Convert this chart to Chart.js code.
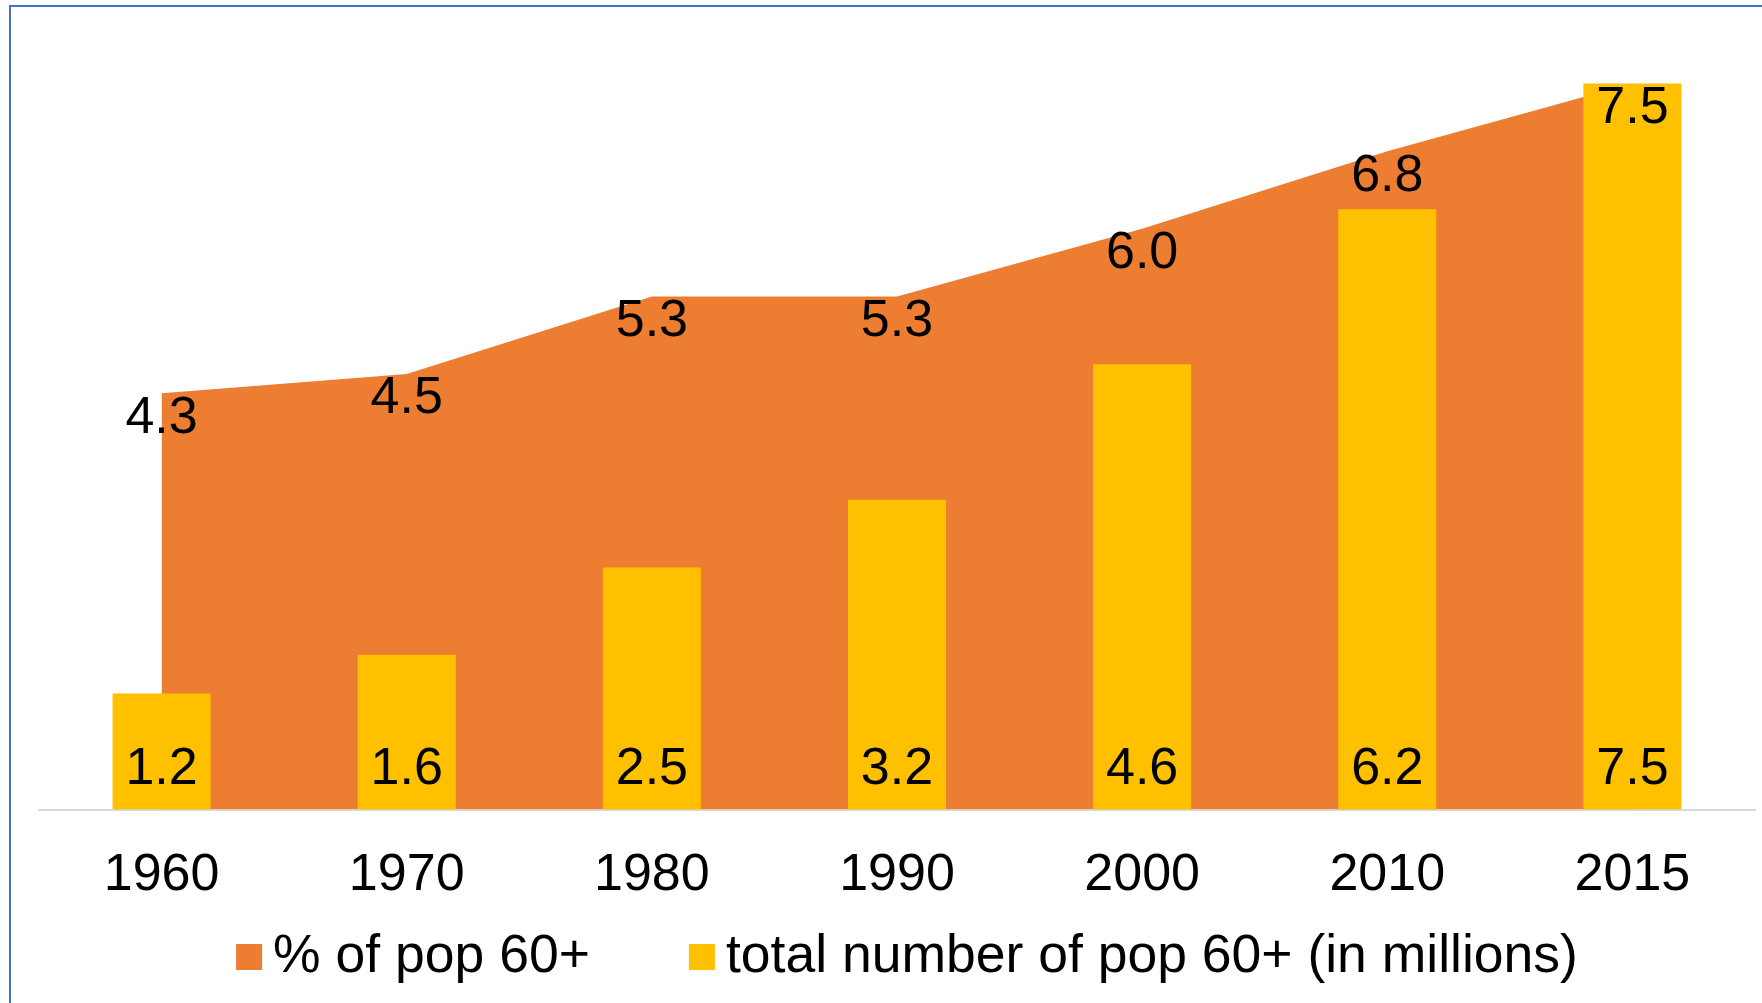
<!DOCTYPE html>
<html>
<head>
<meta charset="utf-8">
<title>Population aged 60+</title>
<script src="https://cdn.jsdelivr.net/npm/chart.js@4.4.1/dist/chart.umd.min.js"></script>
<style>
  html, body { margin: 0; padding: 0; background: #fff; }
  canvas { display: block; }
</style>
</head>
<body>
<canvas id="myChart" width="1762" height="1003"></canvas>
<script>
var years = ["1960", "1970", "1980", "1990", "2000", "2010", "2015"];
var sharePop60 = [4.3, 4.5, 5.3, 5.3, 6.0, 6.8, 7.5];
var totalPop60 = [1.2, 1.6, 2.5, 3.2, 4.6, 6.2, 7.5];
var seriesNames = ["% of pop 60+", "total number of pop 60+ (in millions)"];

var orange = "#ED7D31";
var yellow = "#FFC000";
var fontFamily = "'Liberation Sans', Arial, sans-serif";
var labelFont = { family: fontFamily, size: 52 };

// blue frame round the chart (right and bottom edges fall outside the canvas)
var frame = {
  id: "frame",
  beforeDraw(chart) {
    const ctx = chart.ctx;
    ctx.save();
    ctx.strokeStyle = "#4472C4";
    ctx.lineWidth = 2;
    ctx.strokeRect(10, 6, chart.width, chart.height);
    ctx.restore();
  }
};

// value labels: area values just under the line, bar values near the base
var valueLabels = {
  id: "valueLabels",
  afterDatasetsDraw(chart) {
    const ctx = chart.ctx;
    ctx.save();
    ctx.font = "52px " + fontFamily;
    ctx.fillStyle = "#000";
    ctx.textAlign = "center";
    ctx.textBaseline = "middle";
    chart.getDatasetMeta(0).data.forEach((pt, i) => {
      ctx.fillText(sharePop60[i].toFixed(1), pt.x, pt.y + 25);
    });
    chart.getDatasetMeta(1).data.forEach((bar, i) => {
      ctx.fillText(totalPop60[i].toFixed(1), bar.x, bar.base - 40);
    });
    ctx.restore();
  }
};

// legend row under the axis: square swatch, short gap, then the series name
var legendRow = {
  id: "legendRow",
  afterDraw(chart) {
    const ctx = chart.ctx;
    const area = chart.chartArea;
    const box = 26, gap = 11, spacing = 99;
    const y = chart.height - 46;
    ctx.save();
    ctx.font = "53.5px " + fontFamily;
    ctx.textBaseline = "middle";
    const items = chart.data.datasets.map(ds => ({
      text: ds.label,
      color: ds.backgroundColor,
      w: ctx.measureText(ds.label).width
    }));
    const total = items.reduce((s, it) => s + box + gap + it.w, 0) + spacing * (items.length - 1);
    let x = (area.left + area.right) / 2 + 10 - total / 2;
    items.forEach(it => {
      ctx.fillStyle = it.color;
      ctx.fillRect(x, y - box / 2, box, box);
      ctx.fillStyle = "#000";
      ctx.fillText(it.text, x + box + gap, y);
      x += box + gap + it.w + spacing;
    });
    ctx.restore();
  }
};

new Chart("myChart", {
  type: "bar",
  data: {
    labels: years,
    datasets: [{
      type: "line",
      label: seriesNames[0],
      data: sharePop60,
      backgroundColor: orange,
      borderColor: orange,
      borderWidth: 0,
      pointRadius: 0,
      fill: "origin",
      tension: 0,
      order: 2
    }, {
      label: seriesNames[1],
      data: totalPop60,
      backgroundColor: yellow,
      barPercentage: 0.4,
      categoryPercentage: 1,
      order: 1
    }]
  },
  options: {
    responsive: false,
    animation: false,
    layout: { padding: { left: 39, right: 7, top: 35, bottom: 61 } },
    plugins: {
      legend: { display: false },
      tooltip: { enabled: false }
    },
    scales: {
      x: {
        grid: { display: false, drawTicks: false },
        border: { display: true, color: "#D9D9D9", width: 2 },
        ticks: { font: labelFont, color: "#000", padding: 35 }
      },
      y: { display: false, min: 0, max: 8 }
    }
  },
  plugins: [frame, valueLabels, legendRow]
});
</script>
</body>
</html>
